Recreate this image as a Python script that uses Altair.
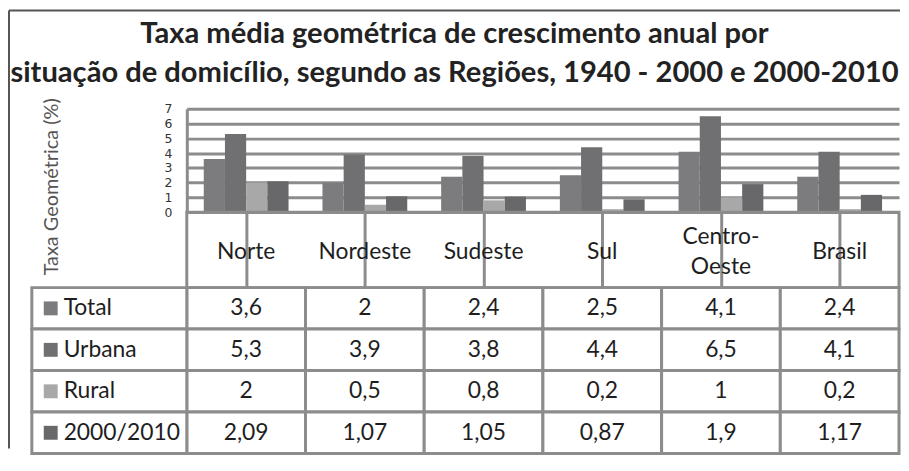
import altair as alt
import pandas as pd

regions = ["Norte", "Nordeste", "Sudeste", "Sul", "Centro-Oeste", "Brasil"]
header_labels = ["Norte", "Nordeste", "Sudeste", "Sul", "Centro-\nOeste", "Brasil"]
series = ["Total", "Urbana", "Rural", "2000/2010"]
total = [3.6, 2, 2.4, 2.5, 4.1, 2.4]
urbana = [5.3, 3.9, 3.8, 4.4, 6.5, 4.1]
rural = [2, 0.5, 0.8, 0.2, 1, 0.2]
dec_2000_2010 = [2.09, 1.07, 1.05, 0.87, 1.9, 1.17]
bar_colors = ["#7c7c7f", "#707073", "#a8a8a8", "#68686b"]
y_ticks = [0, 1, 2, 3, 4, 5, 6, 7]
title_lines = [
    "Taxa média geométrica de crescimento anual por",
    "situação de domicílio, segundo as Regiões, 1940 - 2000 e 2000-2010",
]

rows = []
for s, vals in zip(series, [total, urbana, rural, dec_2000_2010]):
    for r, v in zip(regions, vals):
        rows.append({"Região": r, "Série": s, "Valor": v,
                     "Rótulo": f"{v:g}".replace(".", ",")})
df = pd.DataFrame(rows)
hdr = pd.DataFrame({"Região": regions, "Cabeçalho": header_labels,
                    "Linhas": [h.count("\n") + 1 for h in header_labels]})
leg = pd.DataFrame({"Série": series})
one = pd.DataFrame({"k": [0]})

FONT = "Lato"
GRID = "#8c8c8c"
TXT = "#1e1e1e"
W = 717
FS = 23

x_scale = alt.Scale(domain=regions, paddingInner=0, paddingOuter=0)
y_tab = alt.Scale(domain=series, paddingInner=0, paddingOuter=0)
color_scale = alt.Scale(domain=series, range=bar_colors)

bars = alt.Chart(df).mark_bar().encode(
    x=alt.X("Região:N", scale=x_scale, axis=None),
    xOffset=alt.XOffset("Série:N", scale=alt.Scale(domain=series, paddingInner=0, paddingOuter=0.8)),
    y=alt.Y("Valor:Q", scale=alt.Scale(domain=[0, 7], nice=False),
            axis=alt.Axis(values=y_ticks, grid=True, gridColor=GRID, gridWidth=3,
                          ticks=False, domain=True, domainColor=GRID, domainWidth=3,
                          labelPadding=15, labelFont="DejaVu Sans", labelFontSize=12.5,
                          labelColor="#333",
                          title="Taxa Geométrica (%)", titleFont=FONT, titleFontSize=20,
                          titleFontWeight="normal", titleColor="#555",
                          titleX=-136, titleY=78, titleAngle=270, titleAlign="center",
                          titleBaseline="middle")),
    color=alt.Color("Série:N", scale=color_scale, legend=None),
)
frame_v = alt.Chart(one).mark_rule(color="#555", strokeWidth=2).encode(
    x=alt.value(-179), y=alt.value(-99), y2=alt.value(342))
frame_h = alt.Chart(one).mark_rule(color="#555", strokeWidth=2).encode(
    x=alt.value(-179), x2=alt.value(718), y=alt.value(-99))

top = alt.layer(bars, frame_v, frame_h).properties(
    width=W, height=104, view=alt.ViewBackground(stroke=None))

hdr_x = alt.X("Região:N", scale=x_scale,
              axis=alt.Axis(grid=True, gridColor=GRID, gridWidth=3, bandPosition=0,
                            labels=False, ticks=False, domain=False, title=None))
hdr_one = alt.Chart(hdr).transform_filter("datum.Linhas == 1").mark_text(
    font=FONT, fontSize=FS, color=TXT, baseline="middle", dy=2).encode(
    x=hdr_x, text="Cabeçalho:N")
hdr_two = alt.Chart(hdr).transform_filter("datum.Linhas == 2").mark_text(
    font=FONT, fontSize=FS, color=TXT, baseline="middle", lineBreak="\n",
    lineHeight=30, dy=-13).encode(
    x=hdr_x, text="Cabeçalho:N")
header = alt.layer(hdr_one, hdr_two).properties(
    width=W, height=76, view=alt.ViewBackground(stroke=GRID, strokeWidth=3))

cells = alt.Chart(df).mark_rect(fill="white", stroke=GRID, strokeWidth=3).encode(
    x=alt.X("Região:N", scale=x_scale, axis=None),
    y=alt.Y("Série:N", scale=y_tab, axis=None))
leg_cells = alt.Chart(leg).mark_rect(fill="white", stroke=GRID, strokeWidth=3).encode(
    x=alt.value(-156), x2=alt.value(0),
    y=alt.Y("Série:N", scale=y_tab, axis=None))
squares = alt.Chart(leg).mark_point(shape="square", filled=True, size=196, opacity=1).encode(
    x=alt.value(-137),
    y=alt.Y("Série:N", scale=y_tab, axis=None),
    color=alt.Color("Série:N", scale=color_scale, legend=None))
names = alt.Chart(leg).mark_text(font=FONT, fontSize=FS, color=TXT, align="left",
                                 baseline="middle").encode(
    x=alt.value(-124),
    y=alt.Y("Série:N", scale=y_tab, axis=None),
    text="Série:N")
values = alt.Chart(df).mark_text(font=FONT, fontSize=FS, color=TXT, baseline="middle").encode(
    x=alt.X("Região:N", scale=x_scale, axis=None),
    y=alt.Y("Série:N", scale=y_tab, axis=None),
    text="Rótulo:N")

table = alt.layer(cells, leg_cells, squares, names, values).properties(
    width=W, height=167, view=alt.ViewBackground(stroke=None))

chart = alt.vconcat(top, header, table, spacing=0, bounds="flush").properties(
    title=alt.TitleParams(text=title_lines, font=FONT, fontSize=29.3, fontWeight="bold",
                          color="#222", lineHeight=39, anchor="middle", offset=-79),
    padding={"left": 0, "top": 0, "right": 0, "bottom": 0},
).configure(font=FONT)

chart.save("out.html", embed_options={"renderer": "svg", "actions": False})
